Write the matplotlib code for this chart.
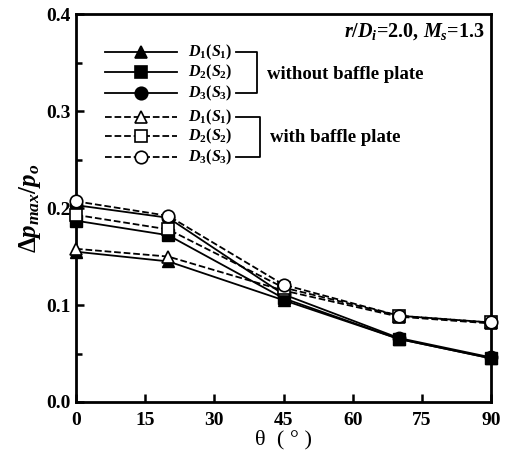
import numpy as np
import matplotlib
matplotlib.use('Agg')
import matplotlib.pyplot as plt

plt.rcParams['font.family'] = ['Liberation Serif', 'DejaVu Serif']
plt.rcParams['mathtext.fontset'] = 'custom'
plt.rcParams['mathtext.it'] = 'Liberation Serif:italic:bold'
plt.rcParams['mathtext.rm'] = 'Liberation Serif:bold'
plt.rcParams['mathtext.bf'] = 'Liberation Serif:bold'

# data
theta = [0, 20, 45, 70, 90]
d1_without = [0.155, 0.145, 0.105, 0.065, 0.045]
d2_without = [0.187, 0.172, 0.107, 0.065, 0.045]
d3_without = [0.203, 0.190, 0.111, 0.066, 0.046]
d1_with = [0.158, 0.150, 0.115, 0.088, 0.081]
d2_with = [0.193, 0.178, 0.118, 0.089, 0.082]
d3_with = [0.207, 0.192, 0.121, 0.089, 0.082]
labels = [r'$D_1(S_1)$', r'$D_2(S_2)$', r'$D_3(S_3)$']
markers = ['^', 's', 'o']

fig = plt.figure(figsize=(5.08, 4.65), dpi=100)
ax = fig.add_axes([0.1496, 0.1355, 0.817, 0.834])

for y, m in zip([d1_without, d2_without, d3_without], markers):
    ax.plot(theta, y, '-', color='black', lw=1.3, marker=m, ms=9,
            mfc='black', mec='black', clip_on=False, zorder=3)
for y, m in zip([d1_with, d2_with, d3_with], markers):
    ax.plot(theta, y, '--', color='black', lw=1.3, marker=m, ms=9,
            mfc='white', mec='black', mew=1.2, clip_on=False, zorder=4)

ax.set_xlim(0, 90)
ax.set_ylim(0, 0.4)
ax.set_xticks(np.arange(0, 91, 15))
ax.set_yticks(np.arange(0, 0.41, 0.1))
ax.set_yticks(np.arange(0.05, 0.4, 0.1), minor=True)
ax.set_yticklabels(['0.0', '0.1', '0.2', '0.3', '0.4'])
ax.tick_params(which='both', direction='in', top=False, right=False,
               width=1.8, labelsize=14)
ax.tick_params(which='major', length=6)
ax.tick_params(which='minor', length=4)
ax.tick_params(axis='x', pad=7)
ax.tick_params(axis='y', pad=4)
for lab in ax.get_xticklabels() + ax.get_yticklabels():
    lab.set_fontweight('bold')
for s in ax.spines.values():
    s.set_linewidth(2.0)

ax.set_xlabel('θ  ( ° )', fontsize=16, labelpad=1)
ax.set_ylabel(r'$\Delta p_{max}/p_o$', fontsize=18, labelpad=2)

ax.text(0.985, 0.955, r'$r/D_i$=2.0, $M_s$=1.3', transform=ax.transAxes,
        ha='right', va='center', fontsize=14.5, fontweight='bold')

# hand-made legend with brackets
def fx(px):
    return (px - 76) / 415.0

def fy(py):
    return (402 - py) / 388.0

rows = [52, 72, 93, 117, 136, 157]
for i, py in enumerate(rows):
    ls = '-' if i < 3 else '--'
    fc = 'black' if i < 3 else 'white'
    ax.plot([fx(105), fx(177)], [fy(py), fy(py)], ls, color='black', lw=1.3,
            transform=ax.transAxes)
    ax.plot([fx(141)], [fy(py)], marker=markers[i % 3], ms=9, mfc=fc,
            mec='black', mew=1.2, transform=ax.transAxes)
    ax.text(fx(188), fy(py), labels[i % 3], transform=ax.transAxes,
            ha='left', va='center', fontsize=11.5)

for (top, bot, xv) in [(52, 93, 257), (117, 157, 260)]:
    ax.plot([fx(236), fx(xv), fx(xv), fx(236)],
            [fy(top), fy(top), fy(bot), fy(bot)], '-', color='black', lw=1.3,
            transform=ax.transAxes)
ax.text(fx(267), fy(74), 'without baffle plate', transform=ax.transAxes,
        ha='left', va='center', fontsize=13.5, fontweight='bold')
ax.text(fx(270), fy(137), 'with baffle plate', transform=ax.transAxes,
        ha='left', va='center', fontsize=13.5, fontweight='bold')

fig.savefig('out.png', dpi=100)
